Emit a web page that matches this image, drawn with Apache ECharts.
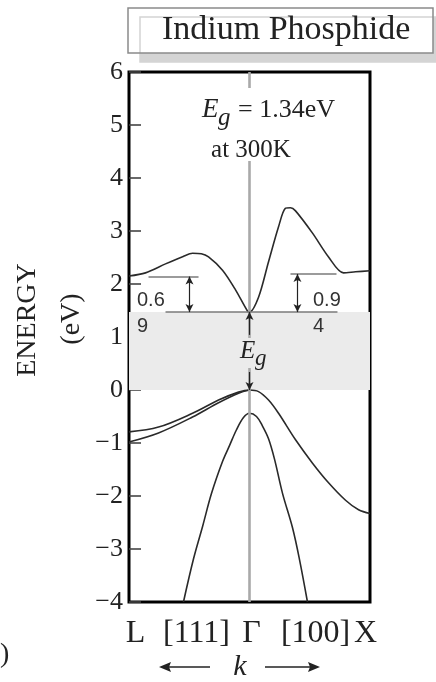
<!DOCTYPE html>
<html>
<head>
<meta charset="utf-8">
<script src="https://cdn.jsdelivr.net/npm/echarts@6/dist/echarts.min.js"></script>
<style>html,body{margin:0;padding:0;background:#fff;}#c{width:436px;height:682px;}</style>
</head>
<body>
<div id="c"></div>
<script>
// ---- data (k: L=-1, Γ=0, X=+1 ; energy in eV) ----
const kCB = [-1.0, -0.863, -0.697, -0.55, -0.473, -0.40, -0.340, -0.224, -0.116, -0.017, 0, 0.075, 0.158, 0.241, 0.299, 0.34, 0.382, 0.523, 0.656, 0.780, 0.880, 1.0];
const eCB = [2.15, 2.21, 2.38, 2.52, 2.58, 2.57, 2.51, 2.26, 1.89, 1.49, 1.47, 1.75, 2.42, 3.08, 3.43, 3.44, 3.38, 2.96, 2.51, 2.21, 2.23, 2.25];
const kHH = [-1.0, -0.755, -0.473, -0.257, -0.091, 0, 0.075, 0.158, 0.241, 0.382, 0.523, 0.656, 0.797, 0.905, 1.0];
const eHH = [-0.79, -0.70, -0.44, -0.19, -0.04, 0, -0.03, -0.19, -0.44, -0.94, -1.38, -1.75, -2.08, -2.26, -2.33];
const kLH = [-1.0, -0.755, -0.473, -0.257, -0.091, 0];
const eLH = [-0.98, -0.81, -0.51, -0.24, -0.06, 0];
const kSO = [-0.548, -0.465, -0.390, -0.315, -0.224, -0.166, -0.108, -0.050, 0, 0.058, 0.108, 0.158, 0.207, 0.274, 0.357, 0.415, 0.481];
const eSO = [-4.0, -3.19, -2.58, -1.95, -1.35, -1.05, -0.75, -0.52, -0.44, -0.50, -0.68, -0.92, -1.30, -1.95, -2.60, -3.20, -4.0];

const ecMin = 1.47;          // conduction band minimum as drawn
const evMax = 0;             // valence band maximum
const satL = 2.14, satR = 2.19;   // side valley levels (L and X)
const levelSpan = [-0.697, 0.73];
const satLSpan = [-0.838, -0.423], satRSpan = [0.34, 0.722];
const arrowLk = -0.498, arrowRk = 0.398;
const egArrowUp = [1.04, 1.47], egArrowDown = [0.34, 0];

const yMin = -4, yMax = 6, yStep = 1;
const xLabelPos = [-0.946, -0.44, 0.017, 0.548, 0.963];
const xLabels = ['L', '[111]', 'Γ', '[100]', 'X'];

const zip = (a, b) => a.map((v, i) => [v, b[i]]);
const SERIF = 'Liberation Serif';
const curveStyle = { color: '#2a2a2a', width: 1.6 };
const levelStyle = { color: '#7a7a7a', width: 1.6, type: 'solid' };
const arrowStyle = { color: '#222', width: 1.2, type: 'solid' };

const chart = echarts.init(document.getElementById('c'), null, { renderer: 'canvas' });
const option = {
  animation: false,
  backgroundColor: '#fff',
  title: {
    text: 'Indium Phosphide',
    left: 128, top: 8,
    padding: [6, 23, 6, 34],
    borderColor: '#8a8a8a', borderWidth: 1.5,
    backgroundColor: '#fff',
    shadowColor: '#d4d4d4', shadowOffsetX: 12, shadowOffsetY: 9, shadowBlur: 0,
    textStyle: { fontFamily: SERIF, fontSize: 34, fontWeight: 'normal', color: '#222', lineHeight: 33 }
  },
  grid: { left: 129, right: 66, top: 72, bottom: 80, show: true, borderColor: '#000', borderWidth: 3, backgroundColor: 'transparent' },
  xAxis: {
    type: 'value', min: -1, max: 1,
    axisLine: { show: false, onZero: false }, axisTick: { show: false }, splitLine: { show: false },
    axisLabel: {
      customValues: xLabelPos,
      formatter: v => { const i = xLabelPos.indexOf(v); return i >= 0 ? xLabels[i] : ''; },
      fontFamily: SERIF, fontSize: 32, color: '#222', margin: 16
    }
  },
  yAxis: {
    type: 'value', min: yMin, max: yMax, interval: yStep,
    axisLine: { show: false, onZero: false }, splitLine: { show: false },
    axisTick: { show: true, inside: true, length: 12, lineStyle: { color: '#444', width: 1.6 } },
    axisLabel: {
      formatter: v => (v < 0 ? '\u2212' + Math.abs(v) : String(v)),
      fontFamily: SERIF, fontSize: 26, color: '#222', margin: 6
    }
  },
  series: [
    {
      type: 'line', data: [], z: 1, silent: true,
      markArea: { silent: true, itemStyle: { color: '#ebebeb' }, data: [[{ yAxis: evMax }, { yAxis: ecMin }]] },
      markLine: {
        silent: true, symbol: 'none', label: { show: false },
        lineStyle: { color: '#a9a9a9', width: 2.6, type: 'solid' },
        data: [{ xAxis: 0 }]
      }
    },
    {
      type: 'line', data: [], z: 2, silent: true,
      markLine: {
        silent: true, symbol: 'none', label: { show: false }, lineStyle: levelStyle,
        data: [
          [{ coord: [levelSpan[0], ecMin] }, { coord: [levelSpan[1], ecMin] }],
          [{ coord: [satLSpan[0], satL] }, { coord: [satLSpan[1], satL] }],
          [{ coord: [satRSpan[0], satR] }, { coord: [satRSpan[1], satR] }]
        ]
      }
    },
    {
      type: 'line', data: [], z: 4, silent: true,
      markLine: {
        silent: true, symbol: ['arrow', 'arrow'], symbolSize: [6, 8], label: { show: false }, lineStyle: arrowStyle,
        data: [
          [{ coord: [arrowLk, ecMin] }, { coord: [arrowLk, satL] }],
          [{ coord: [arrowRk, ecMin] }, { coord: [arrowRk, satR] }],
          [{ coord: [0, egArrowUp[0]], symbol: 'none' }, { coord: [0, egArrowUp[1]], symbol: 'arrow' }],
          [{ coord: [0, egArrowDown[0]], symbol: 'none' }, { coord: [0, egArrowDown[1]], symbol: 'arrow' }]
        ]
      }
    },
    { name: 'conduction', type: 'line', data: zip(kCB, eCB), smooth: 0.3, showSymbol: false, lineStyle: curveStyle, z: 3 },
    { name: 'heavy hole', type: 'line', data: zip(kHH, eHH), smooth: 0.35, showSymbol: false, lineStyle: curveStyle, z: 3 },
    { name: 'light hole', type: 'line', data: zip(kLH, eLH), smooth: 0.35, showSymbol: false, lineStyle: curveStyle, z: 3 },
    { name: 'split-off', type: 'line', data: zip(kSO, eSO), smooth: 0.35, showSymbol: false, lineStyle: curveStyle, z: 3 }
  ],
  graphic: [
    // white gap in the Γ line behind the Eg note
    { type: 'rect', shape: { x: 236, y: 88, width: 26, height: 73 }, style: { fill: '#fff' }, z: 50 },
    { type: 'text', x: 202, y: 110, style: { text: 'E', font: 'italic 27px Liberation Serif', fill: '#222', textVerticalAlign: 'middle' }, z: 60 },
    { type: 'text', x: 218, y: 118, style: { text: 'g', font: 'italic 25px Liberation Serif', fill: '#222', textVerticalAlign: 'middle' }, z: 60 },
    { type: 'text', x: 238, y: 110, style: { text: '= 1.34eV', font: '26px Liberation Serif', fill: '#222', textVerticalAlign: 'middle' }, z: 60 },
    { type: 'text', x: 251, y: 150, style: { text: 'at 300K', font: '25px Liberation Serif', fill: '#222', textAlign: 'center', textVerticalAlign: 'middle' }, z: 60 },
    // Eg in gap
    { type: 'rect', shape: { x: 238, y: 338, width: 28, height: 30 }, style: { fill: '#ebebeb' }, z: 50 },
    { type: 'text', x: 240, y: 351, style: { text: 'E', font: 'italic 25px Liberation Serif', fill: '#222', textVerticalAlign: 'middle' }, z: 60 },
    { type: 'text', x: 255, y: 359, style: { text: 'g', font: 'italic 23px Liberation Serif', fill: '#222', textVerticalAlign: 'middle' }, z: 60 },
    // valley separations
    { type: 'text', x: 137, y: 300, style: { text: '0.6', font: '20px Liberation Sans', fill: '#333', textVerticalAlign: 'middle' }, z: 60 },
    { type: 'text', x: 137, y: 326, style: { text: '9', font: '20px Liberation Sans', fill: '#333', textVerticalAlign: 'middle' }, z: 60 },
    { type: 'text', x: 313, y: 300, style: { text: '0.9', font: '20px Liberation Sans', fill: '#333', textVerticalAlign: 'middle' }, z: 60 },
    { type: 'text', x: 313, y: 326, style: { text: '4', font: '20px Liberation Sans', fill: '#333', textVerticalAlign: 'middle' }, z: 60 },
    // y axis title
    { type: 'text', x: 28, y: 320, rotation: Math.PI / 2, style: { text: 'ENERGY', font: '28px Liberation Serif', fill: '#222', textAlign: 'center', textVerticalAlign: 'middle' }, z: 60 },
    { type: 'text', x: 72, y: 319, rotation: Math.PI / 2, style: { text: '(eV)', font: '28px Liberation Serif', fill: '#222', textAlign: 'center', textVerticalAlign: 'middle' }, z: 60 },
    // k with arrows
    { type: 'text', x: 240, y: 667, style: { text: 'k', font: 'italic 30px Liberation Serif', fill: '#222', textAlign: 'center', textVerticalAlign: 'middle' }, z: 60 },
    { type: 'line', shape: { x1: 168, y1: 667, x2: 210, y2: 667 }, style: { stroke: '#222', lineWidth: 1.6 }, z: 60 },
    { type: 'polygon', shape: { points: [[159, 667], [171, 662], [169, 667], [171, 672]] }, style: { fill: '#222' }, z: 60 },
    { type: 'line', shape: { x1: 265, y1: 667, x2: 311, y2: 667 }, style: { stroke: '#222', lineWidth: 1.6 }, z: 60 },
    { type: 'polygon', shape: { points: [[320, 667], [308, 662], [310, 667], [308, 672]] }, style: { fill: '#222' }, z: 60 },
    // panel letter remnant
    { type: 'text', x: 0, y: 655, style: { text: ')', font: '28px Liberation Serif', fill: '#222', textVerticalAlign: 'middle' }, z: 60 }
  ]
};
chart.setOption(option);
</script>
</body>
</html>
